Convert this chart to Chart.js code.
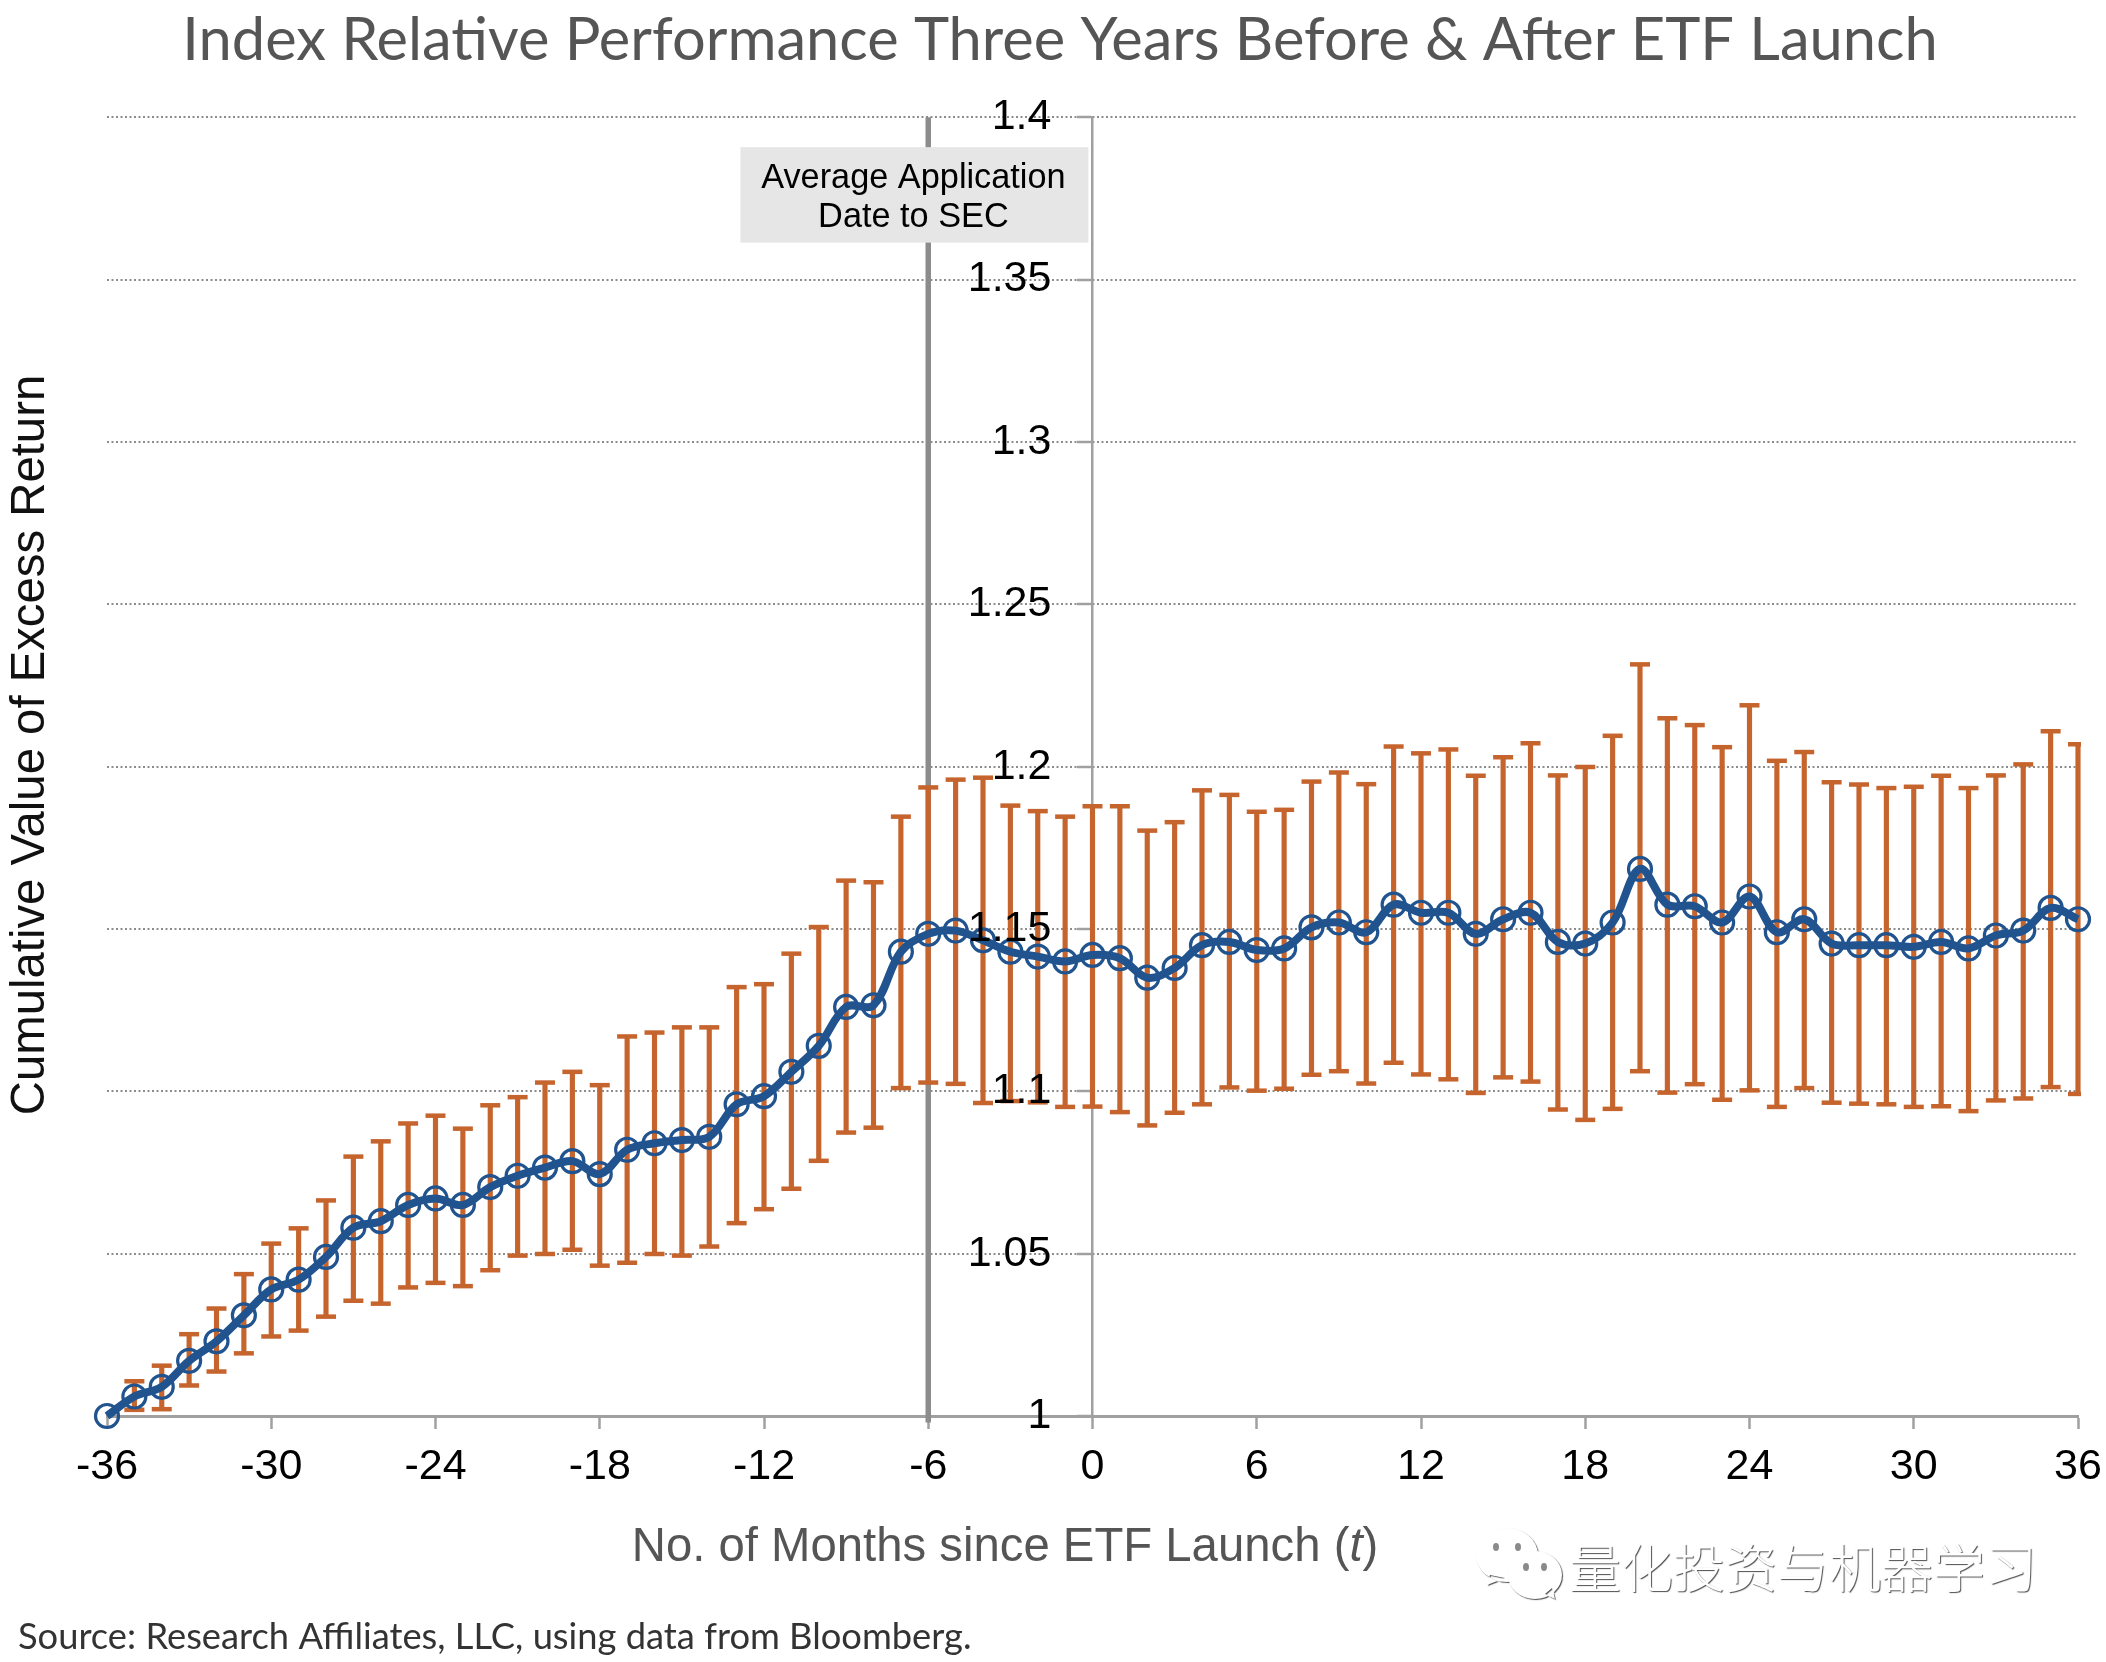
<!DOCTYPE html>
<html>
<head>
<meta charset="utf-8">
<title>Index Relative Performance</title>
<script src="https://cdn.jsdelivr.net/npm/chart.js@4"></script>
<style>
  html, body { margin: 0; padding: 0; background: #fff; }
  canvas { display: block; }
</style>
</head>
<body>
<canvas id="chart" width="2106" height="1662"></canvas>
<script>
const months = [
  -36, -35, -34, -33, -32, -31, -30, -29, -28, -27, -26, -25,
  -24, -23, -22, -21, -20, -19, -18, -17, -16, -15, -14, -13,
  -12, -11, -10, -9, -8, -7, -6, -5, -4, -3, -2, -1,
  0, 1, 2, 3, 4, 5, 6, 7, 8, 9, 10, 11,
  12, 13, 14, 15, 16, 17, 18, 19, 20, 21, 22, 23,
  24, 25, 26, 27, 28, 29, 30, 31, 32, 33, 34, 35, 36
];

const excessReturn = [
  1.000, 1.006, 1.009, 1.017, 1.023, 1.031, 1.039, 1.042, 1.049, 1.058, 1.060, 1.065,
  1.067, 1.065, 1.0705, 1.074, 1.0765, 1.0785, 1.0745, 1.082, 1.084, 1.085, 1.086, 1.096,
  1.0985, 1.106, 1.114, 1.126, 1.1265, 1.143, 1.1485, 1.1495, 1.1465, 1.143, 1.1415, 1.140,
  1.142, 1.141, 1.135, 1.138, 1.145, 1.146, 1.1435, 1.144, 1.1505, 1.152, 1.149, 1.1575,
  1.155, 1.155, 1.1485, 1.153, 1.155, 1.146, 1.1455, 1.152, 1.1685, 1.1575, 1.157, 1.152,
  1.160, 1.149, 1.153, 1.1455, 1.145, 1.145, 1.1445, 1.146, 1.144, 1.148, 1.1495, 1.1565, 1.153
];

// no range at the first month, every index starts at 1
const rangeHigh = [
  null, 1.0107, 1.0155, 1.0252, 1.0331, 1.0437, 1.0531, 1.0578, 1.0664, 1.0799, 1.0846, 1.0901,
  1.0925, 1.0885, 1.0957, 1.0982, 1.1027, 1.106, 1.1019, 1.1169, 1.1181, 1.1197, 1.1197, 1.1321,
  1.133, 1.1424, 1.1506, 1.1649, 1.1644, 1.1846, 1.1936, 1.196, 1.1966, 1.188, 1.1863, 1.1846,
  1.1878, 1.1878, 1.1803, 1.1829, 1.1927, 1.1913, 1.1861, 1.1867, 1.1954, 1.1982, 1.1946, 1.2062,
  1.2041, 1.2053, 1.1972, 1.2029, 1.2072, 1.1973, 1.1999, 1.2095, 1.2315, 1.2149, 1.2128, 1.206,
  1.2189, 1.2018, 1.2045, 1.1952, 1.1945, 1.1934, 1.1938, 1.1972, 1.1934, 1.1973, 1.2007, 1.2109, 1.2069
];

const rangeLow = [
  null, 1.0019, 1.0021, 1.0094, 1.0137, 1.0193, 1.0245, 1.0263, 1.0306, 1.0355, 1.0346, 1.0396,
  1.041, 1.04, 1.0449, 1.0494, 1.0499, 1.0512, 1.0463, 1.0472, 1.0499, 1.0494, 1.0522, 1.0594,
  1.0637, 1.07, 1.0786, 1.0873, 1.0888, 1.101, 1.1027, 1.1023, 1.0964, 1.097, 1.0966, 1.0952,
  1.0953, 1.0936, 1.0895, 1.0934, 1.096, 1.1012, 1.1002, 1.1008, 1.1051, 1.1062, 1.1024, 1.1088,
  1.1052, 1.1037, 1.0995, 1.1043, 1.103, 1.0944, 1.0912, 1.0946, 1.1062, 1.0996, 1.1022, 1.0974,
  1.1003, 1.0952, 1.101, 1.0965, 1.0962, 1.096, 1.0952, 1.0954, 1.0939, 1.0972, 1.0978, 1.1013, 1.0992
];

const xTicks = [-36, -30, -24, -18, -12, -6, 0, 6, 12, 18, 24, 30, 36];
const yTicks = [1, 1.05, 1.1, 1.15, 1.2, 1.25, 1.3, 1.35, 1.4];

const applicationMonth = [-6, -6];
const applicationSpan = [0.998, 1.4];

const titleText = "Index Relative Performance Three Years Before & After ETF Launch";
const xTitleText = "No. of Months since ETF Launch (";
const yTitleText = "Cumulative Value of Excess Return";
const sourceText = "Source: Research Affiliates, LLC, using data from Bloomberg.";
const noteLines = ["Average Application", "Date to SEC"];
const watermarkText = "量化投资与机器学习";

const BLUE = "#21548f";
const ORANGE = "#c6642e";
const GREY = "#a0a0a0";

const hasRange = (_, i) => rangeHigh[i] !== null;

// pairs of month and value for the line type datasets
const pairs = (xs, ys) => xs.map((x, i) => ({ x: x, y: ys[i] }));

const bubble = (ctx, cx, cy, rx, ry, tail) => {
  ctx.beginPath();
  ctx.ellipse(cx, cy, rx, ry, 0, 0, Math.PI * 2);
  ctx.moveTo(tail[0], tail[1]);
  ctx.lineTo(tail[2], tail[3]);
  ctx.lineTo(tail[4], tail[5]);
  ctx.fill();
};

const eyes = (ctx, cx, cy, gap) => {
  ctx.fillStyle = "#8a8a8a";
  [-gap, gap].forEach(d => {
    ctx.beginPath();
    ctx.ellipse(cx + d, cy, 3, 4, 0, 0, Math.PI * 2);
    ctx.fill();
  });
};

const noteBox = {
  id: "noteBox",
  afterDatasetsDraw(chart) {
    const { ctx, scales: { x, y } } = chart;
    const left = x.getPixelForValue(-12.86);
    const right = x.getPixelForValue(-0.15);
    const top = y.getPixelForValue(1.3908);
    const bottom = y.getPixelForValue(1.3614);
    ctx.save();
    ctx.fillStyle = "#e6e6e6";
    ctx.fillRect(left, top, right - left, bottom - top);
    ctx.fillStyle = "#000";
    ctx.font = "34.3px 'Liberation Sans'";
    ctx.textAlign = "center";
    ctx.textBaseline = "middle";
    noteLines.forEach((line, i) => ctx.fillText(line, (left + right) / 2 - 1, top + 31 + i * 39));
    ctx.restore();
  }
};

const outerText = {
  id: "outerText",
  afterDraw(chart) {
    const { ctx } = chart;
    ctx.save();

    // main title, centred on the page and not on the plot
    ctx.fillStyle = "#555555";
    ctx.textBaseline = "middle";
    ctx.textAlign = "center";
    ctx.font = "59.6px Lato";
    ctx.fillText(titleText, 1060, 41);

    // x title, the t is set in italic
    ctx.textAlign = "left";
    const xFont = "47.3px 'Liberation Sans'";
    const xItalic = "italic 47.3px 'Liberation Sans'";
    ctx.font = xFont;
    const w1 = ctx.measureText(xTitleText).width;
    const w3 = ctx.measureText(")").width;
    ctx.font = xItalic;
    const w2 = ctx.measureText("t").width;
    let xPos = 1005 - (w1 + w2 + w3) / 2;
    ctx.font = xFont;
    ctx.fillText(xTitleText, xPos, 1548);
    ctx.font = xItalic;
    ctx.fillText("t", xPos + w1, 1548);
    ctx.font = xFont;
    ctx.fillText(")", xPos + w1 + w2, 1548);

    // y title
    ctx.save();
    ctx.translate(31, 745);
    ctx.rotate(-Math.PI / 2);
    ctx.textAlign = "center";
    ctx.fillStyle = "#111111";
    ctx.font = "47.3px 'Liberation Sans'";
    ctx.fillText(yTitleText, 0, 0);
    ctx.restore();

    // source
    ctx.fillStyle = "#333333";
    ctx.font = "36.3px Lato";
    ctx.textAlign = "left";
    ctx.fillText(sourceText, 18, 1637);

    // watermark, white with a thin grey edge
    ctx.save();
    ctx.shadowColor = "rgba(60,60,60,0.9)";
    ctx.shadowOffsetX = 1;
    ctx.shadowOffsetY = 1;
    ctx.shadowBlur = 1;
    ctx.fillStyle = "#fff";
    bubble(ctx, 1507, 1555, 31, 27, [1490, 1575, 1487, 1585, 1505, 1578]);
    bubble(ctx, 1535, 1575, 27, 24, [1545, 1594, 1555, 1599, 1552, 1588]);
    ctx.font = "300 52px 'Noto Sans CJK SC'";
    ctx.fillText(watermarkText, 1569, 1568);
    ctx.restore();
    eyes(ctx, 1507, 1547, 11);
    eyes(ctx, 1535, 1567, 9);

    ctx.restore();
  }
};

new Chart(document.getElementById("chart"), {
  type: "line",
  data: {
    datasets: [
      {
        data: pairs(months, excessReturn),
        borderColor: BLUE,
        borderWidth: 8,
        tension: 0.35,
        pointRadius: 0,
        clip: false,
        order: 1
      },
      {
        data: pairs(months, excessReturn),
        showLine: false,
        pointRadius: 11.5,
        pointBorderWidth: 3.2,
        pointBorderColor: BLUE,
        pointBackgroundColor: "transparent",
        clip: false,
        order: 2
      },
      {
        data: pairs(months, rangeHigh).filter(hasRange),
        showLine: false,
        pointStyle: "line",
        pointRadius: 10,
        pointBorderWidth: 4.5,
        pointBorderColor: ORANGE,
        clip: { left: false, top: false, bottom: false, right: 3 },
        order: 3
      },
      {
        data: pairs(months, rangeLow).filter(hasRange),
        showLine: false,
        pointStyle: "line",
        pointRadius: 10,
        pointBorderWidth: 4.5,
        pointBorderColor: ORANGE,
        clip: { left: false, top: false, bottom: false, right: 3 },
        order: 3
      },
      {
        type: "bar",
        data: months.map((m, i) => ({ x: m, y: [rangeLow[i], rangeHigh[i]] })).filter(hasRange),
        backgroundColor: ORANGE,
        barThickness: 4.5,
        clip: { left: false, top: false, bottom: false, right: 3 },
        order: 4
      },
      {
        data: pairs(applicationMonth, applicationSpan),
        borderColor: "#8c8c8c",
        borderWidth: 5.5,
        pointRadius: 0,
        clip: false,
        order: 5
      }
    ]
  },
  options: {
    responsive: false,
    animation: false,
    devicePixelRatio: 1,
    layout: { padding: { left: 107, right: 28, top: 117.3, bottom: 0 } },
    plugins: {
      legend: { display: false },
      tooltip: { enabled: false },
      title: { display: false }
    },
    scales: {
      x: {
        type: "linear",
        min: -36,
        max: 36,
        offset: false,
        afterBuildTicks: scale => { scale.ticks = xTicks.map(v => ({ value: v })); },
        afterFit: scale => {
          scale.height = 246;
          scale.paddingLeft = 0;
          scale.paddingRight = 0;
        },
        grid: { offset: false, drawOnChartArea: false, tickLength: 13, tickColor: GREY, tickWidth: 2.5 },
        border: { color: GREY, width: 3 },
        ticks: {
          color: "#000",
          padding: 12,
          maxRotation: 0,
          font: { family: "Liberation Sans", size: 43 },
          callback: v => String(v)
        }
      },
      y: {
        type: "linear",
        position: { x: 0 },
        min: 1,
        max: 1.4,
        afterBuildTicks: scale => { scale.ticks = yTicks.map(v => ({ value: v })); },
        grid: {
          color: "#8c8c8c",
          lineWidth: 2,
          tickLength: 14,
          tickColor: GREY,
          tickWidth: 2.5,
          tickBorderDash: []
        },
        border: { color: GREY, width: 2.5, dash: [2, 2.5] },
        ticks: { display: false }
      },
      // labels only, they stand a little left of the axis and above the data
      yLabels: {
        type: "linear",
        axis: "y",
        position: { x: -1.5 },
        min: 1,
        max: 1.4,
        afterBuildTicks: scale => { scale.ticks = yTicks.map(v => ({ value: v })); },
        grid: { display: false },
        border: { display: false },
        ticks: {
          color: "#000",
          z: 1,
          font: { family: "Liberation Sans", size: 43 },
          callback: v => String(Number(v.toFixed(2)))
        }
      }
    }
  },
  plugins: [noteBox, outerText]
});
</script>
</body>
</html>
